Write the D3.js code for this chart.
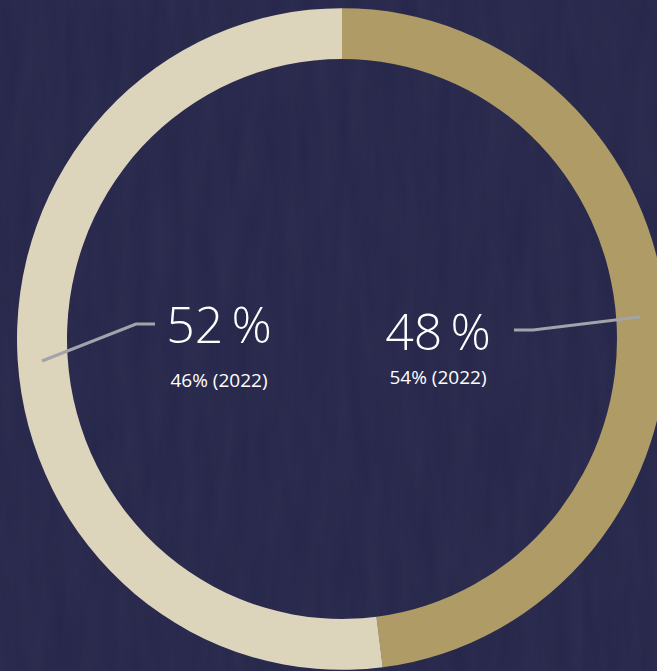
<!DOCTYPE html>
<html>
<head>
<meta charset="utf-8">
<script src="https://cdn.jsdelivr.net/npm/d3@7"></script>
<style>
  html, body { margin: 0; padding: 0; background: #28284b; overflow: hidden; }
  svg { display: block; }
</style>
</head>
<body>
<svg id="chart" width="657" height="671"></svg>
<script>
// Share split, current year vs. 2022
const segments = ["Rechts", "Links"];
const shares = [48, 52];
const sharesPrev = [54, 46];
const colors = ["#ae9b66", "#ddd4bc"];

const W = 657, H = 671;
const cx = 342, cy = 339;
const rOuter = 325, rInner = 275;
const yStretch = 1.018;

const svg = d3.select("#chart");

// background with a faint paper grain
const defs = svg.append("defs");
const f = defs.append("filter").attr("id", "grain").attr("x", 0).attr("y", 0).attr("width", "100%").attr("height", "100%");
f.append("feTurbulence").attr("type", "fractalNoise").attr("baseFrequency", "0.06 0.01").attr("numOctaves", 3).attr("seed", 4).attr("result", "n");
f.append("feColorMatrix").attr("in", "n").attr("type", "matrix")
  .attr("values", "0 0 0 0 0.55  0 0 0 0 0.55  0 0 0 0 0.7  0 0 0 0.05 0");

svg.append("rect").attr("width", W).attr("height", H).attr("fill", "#26264a");
svg.append("rect").attr("width", W).attr("height", H).attr("filter", "url(#grain)");

const pie = d3.pie().sort(null).value(d => d);
const arc = d3.arc().innerRadius(rInner).outerRadius(rOuter);

const ring = svg.append("g")
  .attr("transform", `translate(${cx},${cy}) scale(1,${yStretch})`);

ring.selectAll("path")
  .data(pie(shares))
  .join("path")
  .attr("d", arc)
  .attr("fill", (d, i) => colors[i]);

// leader lines from each label to its segment
const leaders = [
  [[640, 317], [533, 330], [514, 330]],
  [[42, 361], [136, 324], [155, 324]]
];
svg.selectAll("path.leader")
  .data(leaders)
  .join("path")
  .attr("class", "leader")
  .attr("d", d3.line())
  .attr("fill", "none")
  .attr("stroke", "#a3a3ab")
  .attr("stroke-width", 3);

// labels
const labelPos = [
  { x: 438, y: 350, y2: 384 },
  { x: 219, y: 343, y2: 387 }
];
const font = "'Open Sans', 'Noto Sans', sans-serif";

svg.selectAll("text.big")
  .data(shares)
  .join("text")
  .attr("class", "big")
  .attr("x", (d, i) => labelPos[i].x)
  .attr("y", (d, i) => labelPos[i].y)
  .attr("text-anchor", "middle")
  .attr("fill", "#ffffff")
  .style("font-family", font)
  .style("font-weight", 300)
  .style("font-size", "50px")
  .text(d => `${d}\u2009%`);

svg.selectAll("text.small")
  .data(sharesPrev)
  .join("text")
  .attr("class", "small")
  .attr("x", (d, i) => labelPos[i].x)
  .attr("y", (d, i) => labelPos[i].y2)
  .attr("text-anchor", "middle")
  .attr("fill", "#ffffff")
  .style("font-family", font)
  .style("font-weight", 400)
  .style("font-size", "19px")
  .text(d => `${d}% (2022)`);
</script>
</body>
</html>
